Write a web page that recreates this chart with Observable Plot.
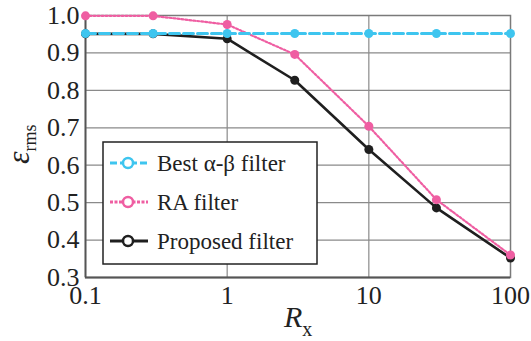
<!DOCTYPE html>
<html>
<head>
<meta charset="utf-8">
<script src="https://cdn.jsdelivr.net/npm/d3@7"></script>
<script src="https://cdn.jsdelivr.net/npm/@observablehq/plot@0.6"></script>
<style>
  html, body { margin: 0; padding: 0; background: #fff; }
  #chart { width: 531px; height: 341px; }
</style>
</head>
<body>
<div id="chart"></div>
<script>
// ---- data ----
const rx = [0.1, 0.3, 1, 3, 10, 30, 100];
const bestAlphaBeta = [0.952, 0.952, 0.952, 0.952, 0.952, 0.952, 0.952];
const raFilter = [0.999, 0.999, 0.976, 0.896, 0.704, 0.508, 0.360];
const proposedFilter = [0.951, 0.951, 0.938, 0.827, 0.642, 0.486, 0.352];
const seriesNames = ["Best \u03b1-\u03b2 filter", "RA filter", "Proposed filter"];
const seriesColors = ["#3ec5ef", "#ef5ea2", "#1f1f1f"];
const seriesDash = ["10,4", "2,2", null];
const yTicks = [0.3, 0.4, 0.5, 0.6, 0.7, 0.8, 0.9, 1.0];
const xTicks = [0.1, 1, 10, 100];
const xGrid = [1, 10];

const seriesValues = [bestAlphaBeta, raFilter, proposedFilter];
const table = seriesValues.map((vals, i) => rx.map((x, j) => ({x, y: vals[j], s: i})));

const serifFont = "Liberation Serif";
const lineMark = (i, w) => Plot.line(table[i], {x: "x", y: "y", stroke: seriesColors[i], strokeWidth: w, strokeDasharray: seriesDash[i]});
const dotMark = (i) => Plot.dot(table[i], {x: "x", y: "y", r: 4.5, fill: seriesColors[i]});

const svg = Plot.plot({
  width: 531,
  height: 341,
  marginLeft: 85,
  marginRight: 21,
  marginTop: 15,
  marginBottom: 64,
  style: {fontFamily: serifFont, fontSize: "26px", color: "#222", background: "#fff", overflow: "visible"},
  x: {type: "log", domain: [0.1, 100], ticks: xTicks, tickFormat: d => String(d), tickSize: 0, tickPadding: 8, label: null},
  y: {domain: [0.3, 1.0], ticks: yTicks, tickFormat: d => d.toFixed(1), tickSize: 0, tickPadding: 6, label: null},
  marks: [
    Plot.ruleY(yTicks.slice(1, -1), {stroke: "#8a8a8a", strokeWidth: 1.2}),
    Plot.ruleX(xGrid, {stroke: "#8a8a8a", strokeWidth: 1.2}),
    Plot.frame({stroke: "#7a7a7a", strokeWidth: 1.5}),
    Plot.ruleX([0.1], {stroke: "#555", strokeWidth: 1.8}),
    Plot.ruleY([0.3], {stroke: "#555", strokeWidth: 1.8}),
    lineMark(2, 2.6), dotMark(2),
    lineMark(1, 2.2), dotMark(1),
    lineMark(0, 3), dotMark(0)
  ]
});

document.getElementById("chart").appendChild(svg);

const s = d3.select(svg);
// axis titles
const yl = s.append("text")
  .attr("transform", "translate(29,164) rotate(-90)")
  .attr("text-anchor", "start")
  .attr("font-family", serifFont).attr("font-size", 32).attr("fill", "#222");
yl.append("tspan").attr("font-style", "italic").text("\u03b5");
yl.append("tspan").attr("dy", 7).attr("font-size", 18).text("rms");

const xl = s.append("text")
  .attr("transform", "translate(284,327)")
  .attr("text-anchor", "start")
  .attr("font-family", serifFont).attr("font-size", 30).attr("fill", "#222");
xl.append("tspan").attr("font-style", "italic").text("R");
xl.append("tspan").attr("dy", 9).attr("font-size", 20).text("x");

// legend
const lg = s.append("g").attr("transform", "translate(103,142)");
lg.append("rect").attr("width", 214).attr("height", 122).attr("fill", "#fff").attr("stroke", "#222").attr("stroke-width", 1.5);
seriesNames.forEach((name, i) => {
  const base = 29 + i * 39;
  const yy = base - 8;
  lg.append("line").attr("x1", 7).attr("x2", 45).attr("y1", yy).attr("y2", yy)
    .attr("stroke", seriesColors[i]).attr("stroke-width", 3).attr("stroke-dasharray", seriesDash[i] ? (i === 0 ? "7,3" : "3,1.5") : null);
  lg.append("circle").attr("cx", 25).attr("cy", yy).attr("r", 5).attr("fill", "#fff").attr("stroke", seriesColors[i]).attr("stroke-width", 2.5);
  lg.append("text").attr("x", 54).attr("y", base).attr("text-anchor", "start")
    .attr("font-family", serifFont).attr("font-size", 23).attr("fill", "#222").text(name);
});
</script>
</body>
</html>
